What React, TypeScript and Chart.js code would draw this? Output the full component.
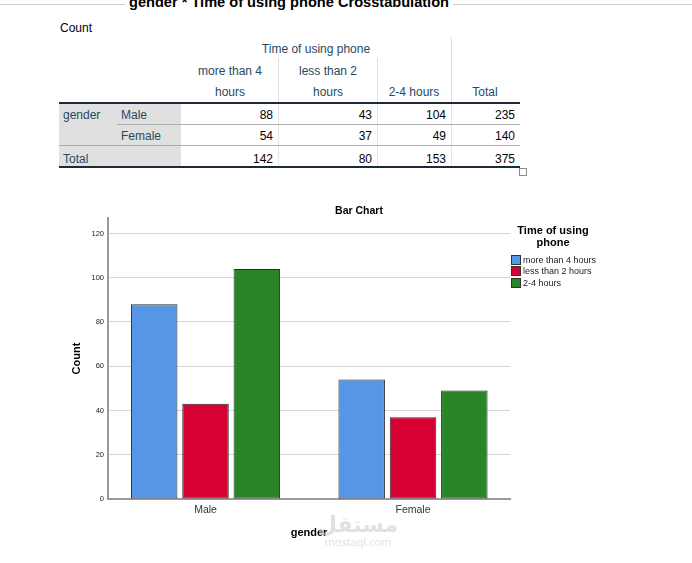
import { useEffect, useRef } from "react";
import type { CSSProperties, ReactNode } from "react";
import Chart from "chart.js/auto";

const genders = ["Male", "Female"];
const phoneTimes = ["more than 4 hours", "less than 2 hours", "2-4 hours"];
const moreThan4 = [88, 54];
const lessThan2 = [43, 37];
const twoToFour = [104, 49];
const rowTotals = [235, 140];
const colTotals = [142, 80, 153];
const grandTotal = 375;
const yTicks = [0, 20, 40, 60, 80, 100, 120];
const yMax = 127;
const barColors = ["#5596e5", "#d60032", "#2a8527"];

const FONT = '"Liberation Sans", Arial, sans-serif';
const HEAD = "#264a60";

// absolute text, y is the vertical centre
function T(props: {
  x: number;
  y: number;
  align?: "left" | "center" | "right";
  style?: CSSProperties;
  children: ReactNode;
}) {
  const { x, y, align = "left", style, children } = props;
  const tx = align === "center" ? "-50%" : align === "right" ? "-100%" : "0";
  return (
    <div
      style={{
        position: "absolute",
        left: x,
        top: y - 6,
        lineHeight: "14px",
        whiteSpace: "nowrap",
        transform: `translateX(${tx})`,
        ...style,
      }}
    >
      {children}
    </div>
  );
}

function Line(props: { x: number; y: number; w: number; h: number; c: string }) {
  return (
    <div
      style={{
        position: "absolute",
        left: props.x,
        top: props.y,
        width: props.w,
        height: props.h,
        background: props.c,
      }}
    />
  );
}

function Crosstab() {
  const numX = [273, 372, 446];
  const head = { color: HEAD };
  return (
    <>
      <Line x={0} y={4} w={692} h={1} c="#cfcfcf" />
      <div
        style={{
          position: "absolute",
          left: 289,
          top: -5,
          transform: "translateX(-50%)",
          font: `bold 14.6px ${FONT}`,
          lineHeight: "15px",
          background: "#fff",
          padding: "0 4px",
          whiteSpace: "nowrap",
          color: "#000",
        }}
      >
        gender * Time of using phone Crosstabulation
      </div>
      <T x={60} y={27}>Count</T>

      {/* header grid lines */}
      <Line x={451} y={37} w={1} h={66} c="#dedede" />
      <Line x={278} y={58} w={1} h={45} c="#dedede" />
      <Line x={377} y={58} w={1} h={45} c="#dedede" />

      <T x={316} y={48} align="center" style={head}>Time of using phone</T>
      <T x={230} y={70} align="center" style={head}>more than 4</T>
      <T x={230} y={91} align="center" style={head}>hours</T>
      <T x={328} y={70} align="center" style={head}>less than 2</T>
      <T x={328} y={91} align="center" style={head}>hours</T>
      <T x={414} y={91} align="center" style={head}>2-4 hours</T>
      <T x={485} y={91} align="center" style={head}>Total</T>

      {/* body */}
      <Line x={59} y={103} w={122} h={64} c="#e0e0e0" />
      <Line x={278} y={103} w={1} h={64} c="#e4e4e4" />
      <Line x={377} y={103} w={1} h={64} c="#e4e4e4" />
      <Line x={451} y={103} w={1} h={64} c="#e4e4e4" />
      <Line x={59} y={102} w={461} h={2} c="#1d2b38" />
      <Line x={117} y={124} w={403} h={1} c="#aeaeae" />
      <Line x={59} y={145} w={461} h={1} c="#aeaeae" />
      <Line x={59} y={166} w={461} h={2} c="#1d2b38" />

      <T x={63} y={114} style={head}>gender</T>
      {genders.map((g, i) => (
        <T key={g} x={121} y={114 + i * 21} style={head}>
          {g}
        </T>
      ))}
      <T x={63} y={158} style={head}>Total</T>

      {genders.map((g, i) => {
        const vals = [moreThan4[i], lessThan2[i], twoToFour[i]];
        return (
          <div key={g}>
            {vals.map((v, j) => (
              <T key={j} x={numX[j]} y={114 + i * 21} align="right">
                {v}
              </T>
            ))}
            <T x={515} y={114 + i * 21} align="right">
              {rowTotals[i]}
            </T>
          </div>
        );
      })}
      {colTotals.map((v, j) => (
        <T key={j} x={numX[j]} y={158} align="right">
          {v}
        </T>
      ))}
      <T x={515} y={158} align="right">
        {grandTotal}
      </T>

      <div
        style={{
          position: "absolute",
          left: 519,
          top: 168,
          width: 6,
          height: 6,
          border: "1px solid #8a8a8a",
          background: "#fff",
        }}
      />
    </>
  );
}

function BarChart() {
  const canvasRef = useRef<HTMLCanvasElement>(null);

  useEffect(() => {
    if (!canvasRef.current) return;
    const series = [moreThan4, lessThan2, twoToFour];

    const chart = new Chart(canvasRef.current, {
      type: "bar",
      data: {
        datasets: phoneTimes.map((name, i) => ({
          label: name,
          data: series[i].map((v, k) => ({ x: k, y: v })),
          backgroundColor: barColors[i],
          borderColor: "#2b2b2b",
          borderWidth: 1,
          borderSkipped: false,
          categoryPercentage: 0.742,
          barPercentage: 0.906,
        })),
      },
      options: {
        animation: false,
        responsive: false,
        maintainAspectRatio: false,
        layout: { padding: { top: 13, right: 10, left: 0, bottom: 0 } },
        plugins: {
          legend: { display: false },
          tooltip: { enabled: false },
          title: { display: false },
        },
        scales: {
          x: {
            type: "linear",
            offset: false,
            bounds: "data",
            min: -0.47,
            max: 1.4675,
            grid: { display: false, drawTicks: false },
            border: { display: true, color: "#9a9a9a", width: 2 },
            afterBuildTicks: (s: any) => {
              s.ticks = genders.map((_, k) => ({ value: k }));
            },
            ticks: {
              color: "#333",
              font: { family: FONT, size: 10.5 },
              padding: 5,
              callback: (v: any) => genders[v as number],
            },
            title: {
              display: true,
              text: "gender",
              color: "#000",
              font: { family: FONT, size: 11, weight: "bold" },
              padding: { top: 0, bottom: 5 },
            },
            afterFit: (s: any) => {
              s.height = 46;
            },
          },
          y: {
            min: 0,
            max: yMax,
            grid: { color: "#d6d6d6", lineWidth: 1, drawTicks: false },
            border: { display: true, color: "#9a9a9a", width: 2 },
            ticks: {
              color: "#222",
              font: { family: FONT, size: 7.5 },
              padding: 4,
            },
            afterBuildTicks: (s: any) => {
              s.ticks = yTicks.map((v) => ({ value: v }));
            },
            title: {
              display: true,
              text: "Count",
              color: "#000",
              font: { family: FONT, size: 11, weight: "bold" },
              padding: { top: 10, bottom: 0 },
            },
            afterFit: (s: any) => {
              s.width = 48;
            },
          },
        },
      },
    });

    return () => {
      chart.destroy();
    };
  }, []);

  return (
    <>
      <div style={{ position: "absolute", left: 60, top: 205, width: 460, height: 340 }}>
        <canvas ref={canvasRef} width={460} height={340} style={{ width: 460, height: 340 }}></canvas>
      </div>
      <T x={359} y={210} align="center" style={{ font: `bold 10.5px ${FONT}`, lineHeight: "14px" }}>
        Bar Chart
      </T>

      {/* legend */}
      <div
        style={{
          position: "absolute",
          left: 553,
          top: 224,
          transform: "translateX(-50%)",
          textAlign: "center",
          font: `bold 11px ${FONT}`,
          lineHeight: "12px",
          color: "#000",
        }}
      >
        Time of using
        <br />
        phone
      </div>
      {phoneTimes.map((name, i) => (
        <div
          key={name}
          style={{
            position: "absolute",
            left: 511,
            top: 254.5 + i * 11.5,
            display: "flex",
            alignItems: "center",
            font: `9px ${FONT}`,
            lineHeight: "10px",
            color: "#222",
            whiteSpace: "nowrap",
          }}
        >
          <span
            style={{
              display: "inline-block",
              width: 8,
              height: 8,
              background: barColors[i],
              border: "1px solid #333",
              marginRight: 2,
            }}
          />
          {name}
        </div>
      ))}

      {/* watermark */}
      <div
        style={{
          position: "absolute",
          left: 358,
          top: 510,
          transform: "translateX(-50%)",
          textAlign: "center",
          color: "rgba(200,200,200,0.55)",
          fontFamily: '"Noto Sans", "DejaVu Sans", sans-serif',
          whiteSpace: "nowrap",
          pointerEvents: "none",
        }}
      >
        <div style={{ fontSize: 22, fontWeight: "bold", lineHeight: "26px" }}>مستقل</div>
        <div style={{ fontSize: 11, lineHeight: "12px" }}>mostaql.com</div>
      </div>
    </>
  );
}

export default function App() {
  return (
    <div
      style={{
        position: "absolute",
        left: 0,
        top: 0,
        width: 692,
        height: 563,
        overflow: "hidden",
        background: "#fff",
        fontFamily: FONT,
        fontSize: 12,
        color: "#010205",
      }}
    >
      <Crosstab />
      <BarChart />
    </div>
  );
}
